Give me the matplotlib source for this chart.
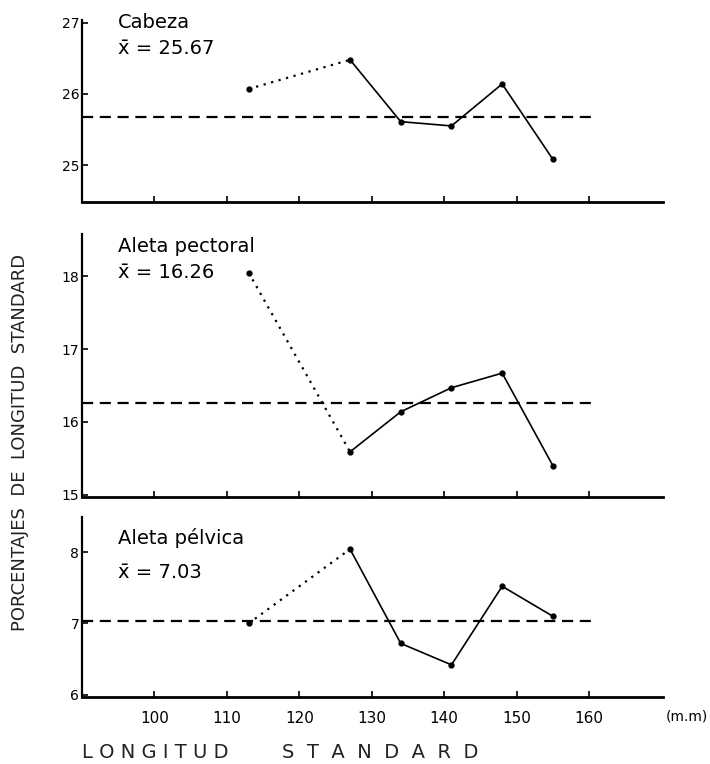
import matplotlib
matplotlib.use("Agg")
import matplotlib.pyplot as plt

plt.rcParams['font.family'] = ['DejaVu Sans']

# Data
x_len = [113, 127, 134, 141, 148, 155]
cabeza = [26.07, 26.48, 25.61, 25.55, 26.14, 25.08]
pectoral = [18.05, 15.59, 16.14, 16.47, 16.67, 15.40]
pelvica = [7.00, 8.04, 6.72, 6.42, 7.52, 7.10]
means = [25.67, 16.26, 7.03]
titles = ["Cabeza", "Aleta pectoral", "Aleta pélvica"]
mean_labels = ["x\u0304 = 25.67", "x\u0304 = 16.26", "x\u0304 = 7.03"]
x_ticks = [100, 110, 120, 130, 140, 150, 160]
y_ticks = [[25, 26, 27], [15, 16, 17, 18], [6, 7, 8]]
ylims = [(24.48, 27.04), (14.97, 18.58), (5.97, 8.49)]
mean_line_x = [90, 161]

W, H = 710, 764
fig = plt.figure(figsize=(W / 100, H / 100), dpi=100)

# pixel boxes (top, bottom)
boxes = [(20, 202), (234, 497), (517, 697)]
left_px, right_px = 82, 663
series = [cabeza, pectoral, pelvica]
label_pos = [(118, 23, 48), (118, 247, 273), (118, 538, 572)]

for i, (top, bot) in enumerate(boxes):
    ax = fig.add_axes([left_px / W, 1 - bot / H, (right_px - left_px) / W, (bot - top) / H])
    ax.set_xlim(90, 170.2)
    ax.set_ylim(*ylims[i])
    for s in ['top', 'right']:
        ax.spines[s].set_visible(False)
    ax.spines['left'].set_linewidth(1.6)
    ax.spines['bottom'].set_linewidth(2.0)
    ax.set_xticks(x_ticks)
    ax.set_yticks(y_ticks[i])
    ax.tick_params(axis='both', direction='in', length=4, width=1.2)
    ax.tick_params(axis='y', labelsize=10, pad=2)
    if i < 2:
        ax.set_xticklabels([])
    else:
        ax.tick_params(axis='x', labelsize=11, pad=10)
    ys = series[i]
    # mean line
    ax.plot(mean_line_x, [means[i], means[i]], color='black', lw=1.6,
            linestyle=(0, (5, 3)))
    # dotted first segment
    ax.plot(x_len[:2], ys[:2], color='black', lw=1.6, linestyle=(0, (1, 2.5)))
    # solid rest
    ax.plot(x_len[1:], ys[1:], color='black', lw=1.2)
    ax.plot(x_len, ys, 'o', color='black', ms=3.5)
    ax.patch.set_alpha(0)
    lx, ty, my = label_pos[i]
    fig.text(lx / W, 1 - ty / H, titles[i], fontsize=14, va='center', ha='left')
    fig.text(lx / W, 1 - my / H, mean_labels[i], fontsize=14, va='center', ha='left')

fig.text(687 / W, 1 - 717 / H, "(m.m)", fontsize=10, va='center', ha='center')
fig.text(20 / W, 1 - 442 / H, "PORCENTAJES  DE  LONGITUD  STANDARD", rotation=90,
         fontsize=13, va='center', ha='center', color='#222222')
fig.text(82 / W, 1 - 753 / H, "L O N G I T U D", fontsize=14, va='center', ha='left',
         color='#222222')
fig.text(282 / W, 1 - 753 / H, "S  T  A  N  D  A  R  D", fontsize=14, va='center',
         ha='left', color='#222222')

fig.savefig("out.png", dpi=100, facecolor='white')
